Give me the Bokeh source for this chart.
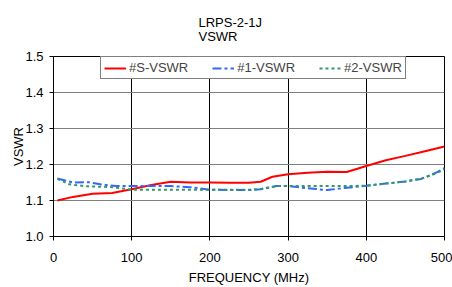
from bokeh.plotting import figure
from bokeh.models import (Legend, LegendItem, FixedTicker, NumeralTickFormatter,
                          Range1d, Title)
from bokeh.embed import file_html
from bokeh.resources import INLINE

# ---- data ----
freq_s = [5, 25, 50, 75, 100, 125, 150, 175, 200, 225, 250, 265, 280, 300, 325, 350, 375, 400, 425, 450, 475, 500]
vswr_s = [1.100, 1.110, 1.119, 1.121, 1.131, 1.143, 1.152, 1.150, 1.150, 1.149, 1.149, 1.152, 1.166, 1.173,
          1.177, 1.180, 1.179, 1.196, 1.212, 1.224, 1.237, 1.250]

freq_1 = [5, 25, 45, 60, 80, 100, 150, 175, 200, 225, 250, 265, 285, 300, 325, 350, 365, 400, 425, 450, 470, 490, 500]
vswr_1 = [1.161, 1.150, 1.151, 1.145, 1.140, 1.140, 1.140, 1.137, 1.130, 1.129, 1.129, 1.131, 1.140, 1.140,
          1.134, 1.129, 1.133, 1.141, 1.147, 1.153, 1.160, 1.178, 1.190]

freq_2 = [5, 20, 40, 75, 100, 150, 200, 250, 265, 285, 300, 350, 370, 400, 425, 450, 470, 490, 500]
vswr_2 = [1.160, 1.145, 1.140, 1.137, 1.130, 1.130, 1.130, 1.130, 1.132, 1.140, 1.140, 1.140, 1.140, 1.141,
          1.147, 1.153, 1.160, 1.176, 1.187]

x_ticks = [0, 100, 200, 300, 400, 500]
y_ticks = [1.0, 1.1, 1.2, 1.3, 1.4, 1.5]
series_names = ["#S-VSWR", "#1-VSWR", "#2-VSWR"]
title_lines = ["LRPS-2-1J", "VSWR"]
x_label = "FREQUENCY (MHz)"
y_label = "VSWR"

FONT = "Liberation Sans"

p = figure(width=452, height=287, output_backend="svg", toolbar_location=None,
           x_range=Range1d(0, 500), y_range=Range1d(1.0, 1.5),
           min_border_left=53, min_border_right=8, min_border_top=50, min_border_bottom=50)
p.background_fill_color = "white"
p.border_fill_color = "white"
p.outline_line_color = "black"
p.outline_line_width = 1

# axes
for ax in (p.xaxis[0], p.yaxis[0]):
    ax.axis_line_color = "black"
    ax.major_tick_line_color = "black"
    ax.major_tick_out = 4
    ax.major_tick_in = 0
    ax.minor_tick_line_color = None
    ax.major_label_text_font = FONT
    ax.major_label_text_font_size = "13px"
    ax.major_label_text_color = "black"
    ax.axis_label_text_font = FONT
    ax.axis_label_text_font_size = "13px"
    ax.axis_label_text_font_style = "normal"
    ax.axis_label_text_color = "black"

p.xaxis[0].ticker = FixedTicker(ticks=x_ticks)
p.yaxis[0].ticker = FixedTicker(ticks=y_ticks)
p.yaxis[0].formatter = NumeralTickFormatter(format="0.0")
p.xaxis[0].major_label_standoff = 12
p.yaxis[0].major_label_standoff = 6
p.xaxis[0].axis_label = x_label
p.xaxis[0].axis_label_standoff = 5
p.yaxis[0].axis_label = y_label
p.yaxis[0].axis_label_standoff = -4

p.xgrid[0].ticker = FixedTicker(ticks=x_ticks)
p.ygrid[0].ticker = FixedTicker(ticks=y_ticks)
p.xgrid[0].grid_line_color = "black"
p.ygrid[0].grid_line_color = "#808080"
p.xgrid[0].grid_line_width = 1
p.ygrid[0].grid_line_width = 1

# lines
r_s = p.line(freq_s, vswr_s, line_color="#ff0000", line_width=2)
r_1 = p.line(freq_1, vswr_1, line_color="#3366ff", line_width=2, line_dash="9 3 3 3")
r_2 = p.line(freq_2, vswr_2, line_color="#339966", line_width=2, line_dash="3 3")

legend = Legend(items=[LegendItem(label=series_names[0], renderers=[r_s]),
                       LegendItem(label=series_names[1], renderers=[r_1]),
                       LegendItem(label=series_names[2], renderers=[r_2])],
                orientation="horizontal", location=(47, 157),
                padding=3, spacing=24, margin=0,
                glyph_width=22, glyph_height=10, label_height=10, label_standoff=3,
                label_text_font=FONT, label_text_font_size="13px",
                border_line_color="black", border_line_width=1,
                background_fill_color="white", background_fill_alpha=1.0)
p.add_layout(legend, "center")

# two-line title
p.add_layout(Title(text="\n".join(title_lines), align="left", offset=145, standoff=25,
                   text_font=FONT, text_font_size="13px", text_font_style="normal",
                   text_color="black", text_line_height=0.95), "above")

open("out.html", "w").write(file_html(p, INLINE))
